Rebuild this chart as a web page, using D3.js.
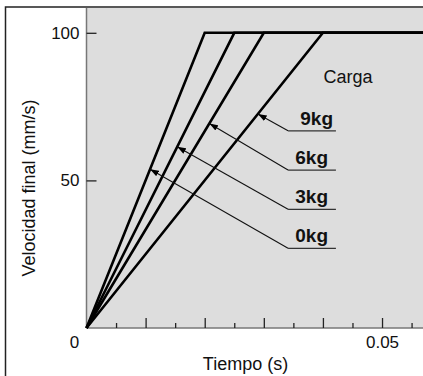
<!DOCTYPE html>
<html>
<head>
<meta charset="utf-8">
<script src="https://cdn.jsdelivr.net/npm/d3@7"></script>
<style>
  html, body { margin: 0; padding: 0; background: #fff; }
  svg { display: block; font-family: "Liberation Sans", Arial, Helvetica, sans-serif; }
</style>
</head>
<body>
<svg id="chart" width="423" height="376"></svg>
<script>
// ---- data ----
const loads = ["0kg", "3kg", "6kg", "9kg"];
const timeToTop = [0.02, 0.025, 0.03, 0.04];   // s to reach final velocity
const finalVelocity = 100;                       // mm/s
const tEnd = 0.057;
const arrowVel = [53.8, 61.4, 69.3, 72.5];       // velocity where each arrow touches its line
const labelVel = [27.0, 40.2, 53.5, 66.8];       // velocity of each label underline
const labelT = [0.0341, 0.0422];                 // underline start / end time
const yTickVals = [50, 100];
const xMajorTicks = [0.01, 0.02, 0.03, 0.04, 0.05];
const xMinorTicks = [0.005, 0.015, 0.025, 0.035, 0.045, 0.055];
const xTickLabels = {"0.05": "0.05"};

const svg = d3.select("#chart");
const W = 423, H = 376;
const mLeft = 86.5, mTop = 8, mBottom = 328;

const x = d3.scaleLinear().domain([0, tEnd]).range([mLeft, W + 0.4]);
const y = d3.scaleLinear().domain([0, 108.4]).range([mBottom, mTop]);

// outer frame
svg.append("rect").attr("x", 5.5).attr("y", 7).attr("width", W + 10).attr("height", H + 10)
  .attr("fill", "#fff").attr("stroke", "#222").attr("stroke-width", 1.5);

// plot background
svg.append("rect").attr("x", mLeft).attr("y", mTop).attr("width", W - mLeft).attr("height", mBottom - mTop)
  .attr("fill", "#dddddd");

// y axis
const yAxis = svg.append("g").attr("transform", `translate(${mLeft},0)`)
  .call(d3.axisLeft(y).tickValues(yTickVals).tickSize(-10).tickPadding(7).tickFormat(d3.format("d")));
yAxis.select(".domain").attr("stroke", "#777").attr("stroke-width", 1.5).attr("d", `M0,${mTop}V${mBottom}`);
yAxis.selectAll(".tick line").attr("stroke", "#222").attr("stroke-width", 1.3);
yAxis.selectAll(".tick text").attr("font-size", 17).attr("fill", "#111").attr("font-family", "Liberation Sans, Arial, sans-serif");

// x axis major ticks
const xAxis = svg.append("g").attr("transform", `translate(0,${mBottom})`)
  .call(d3.axisBottom(x).tickValues(xMajorTicks).tickSize(-10).tickPadding(8)
    .tickFormat(d => xTickLabels[String(d)] || ""));
xAxis.select(".domain").attr("stroke", "#777").attr("stroke-width", 1.5).attr("d", `M${mLeft},0H${W}`);
xAxis.selectAll(".tick line").attr("stroke", "#222").attr("stroke-width", 1.3);
xAxis.selectAll(".tick text").attr("font-size", 17).attr("fill", "#111").attr("font-family", "Liberation Sans, Arial, sans-serif");

// x axis minor ticks
const xMinor = svg.append("g").attr("transform", `translate(0,${mBottom})`)
  .call(d3.axisBottom(x).tickValues(xMinorTicks).tickSize(-5).tickFormat(""));
xMinor.select(".domain").remove();
xMinor.selectAll(".tick line").attr("stroke", "#222").attr("stroke-width", 1.3);

// origin label
svg.append("text").attr("x", x(0) - 12).attr("y", 348).attr("text-anchor", "middle")
  .attr("font-size", 17).attr("fill", "#111").text("0");

// axis titles
svg.append("text").attr("x", 245.5).attr("y", 370).attr("text-anchor", "middle")
  .attr("font-size", 18).attr("fill", "#111").text("Tiempo (s)");
svg.append("text").attr("transform", "translate(35,188) rotate(-90)").attr("text-anchor", "middle")
  .attr("font-size", 18).attr("fill", "#111").text("Velocidad final (mm/s)");

// data lines
const line = d3.line().x(d => x(d[0])).y(d => y(d[1]));
const series = loads.map((name, i) => ({
  name,
  pts: [[0, 0], [timeToTop[i], finalVelocity], [tEnd, finalVelocity]]
}));
svg.append("g").selectAll("path").data(series).join("path")
  .attr("d", d => line(d.pts)).attr("fill", "none").attr("stroke", "#000")
  .attr("stroke-width", 2.6).attr("stroke-linejoin", "miter");

// arrow marker
svg.append("defs").append("marker").attr("id", "ah")
  .attr("viewBox", "0 -4 10 8").attr("refX", 10).attr("refY", 0)
  .attr("markerWidth", 9).attr("markerHeight", 7).attr("markerUnits", "userSpaceOnUse")
  .attr("orient", "auto")
  .append("path").attr("d", "M0,-3.5L10,0L0,3.5Z").attr("fill", "#000");

// annotations
const ann = svg.append("g");
loads.forEach((name, i) => {
  const tipT = timeToTop[i] * arrowVel[i] / finalVelocity;
  ann.append("line")
    .attr("x1", x(labelT[0])).attr("y1", y(labelVel[i]))
    .attr("x2", x(tipT)).attr("y2", y(arrowVel[i]))
    .attr("stroke", "#111").attr("stroke-width", 1.1).attr("marker-end", "url(#ah)");
  ann.append("line")
    .attr("x1", x(labelT[0])).attr("y1", y(labelVel[i]))
    .attr("x2", x(labelT[1])).attr("y2", y(labelVel[i]))
    .attr("stroke", "#333").attr("stroke-width", 1.3);
  ann.append("text")
    .attr("x", name === "9kg" ? 333 : 328).attr("y", y(labelVel[i]) - 6)
    .attr("text-anchor", "end").attr("font-size", 19).attr("font-weight", "bold")
    .attr("fill", "#111").text(name);
});

svg.append("text").attr("x", 348).attr("y", 83).attr("text-anchor", "middle")
  .attr("font-size", 18).attr("fill", "#111").text("Carga");
</script>
</body>
</html>
